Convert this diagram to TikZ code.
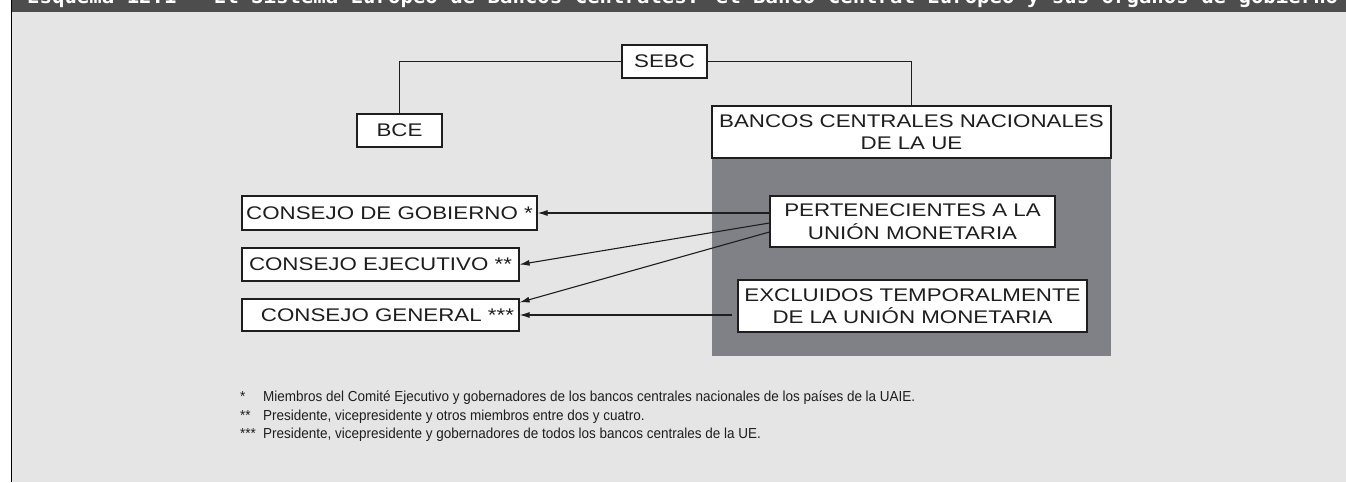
\documentclass[tikz,border=0pt]{standalone}
\usepackage{fontspec}
\setmainfont{Liberation Sans}
\newfontfamily\boxfont[FakeStretch=1.22]{Liberation Sans}
\newfontfamily\notefont[FakeStretch=0.93]{Liberation Sans}
\newfontfamily\titlefont{DejaVu Sans Mono}
\usetikzlibrary{arrows.meta,calc}
\definecolor{bg}{RGB}{229,229,229}
\definecolor{bar}{RGB}{77,77,77}
\definecolor{panel}{RGB}{128,129,134}
\definecolor{ink}{RGB}{30,30,30}
\begin{document}
\begin{tikzpicture}[x=1pt,y=-1pt,
 box/.style={draw=ink,line width=1.2pt,fill=white,inner sep=0pt,align=center,font=\boxfont\fontsize{18.3}{22.5}\selectfont,text=ink},
 link/.style={draw=ink,line width=1.1pt},
 arr/.style={link,-{Latex[length=10pt,width=6pt]}},
 note/.style={anchor=base west,inner sep=0pt,font=\notefont\fontsize{14.5}{17}\selectfont,text=ink}]
\useasboundingbox (0,0) rectangle (1346,482);
\clip (0,0) rectangle (1346,482);
\fill[white] (0,0) rectangle (1346,482);
\fill[bg] (12,0) rectangle (1346,482);
\fill[bar] (12,0) rectangle (1346,12);
\draw[black,line width=1.8pt] (11.5,0) -- (11.5,482);
\node[anchor=base west,inner sep=0pt,text=white,font=\titlefont\bfseries\fontsize{20}{24}\selectfont] (title) at (27,3) {\resizebox{1311pt}{\height}{Esquema 12.1 – El Sistema Europeo de Bancos Centrales: el Banco Central Europeo y sus órganos de gobierno}};
\fill[panel] (712,158) rectangle (1111,356);
\node[box,minimum width=85pt,minimum height=33pt] (sebc) at (664.5,61.5) {SEBC};
\node[box,minimum width=85pt,minimum height=33pt] (bce) at (399.5,130.5) {BCE};
\node[box,minimum width=399pt,minimum height=52pt] (bancos) at (911.5,132) {BANCOS CENTRALES NACIONALES\\DE LA UE};
\node[box,minimum width=285pt,minimum height=51pt] (pert) at (912.5,221.5) {PERTENECIENTES A LA\\UNIÓN MONETARIA};
\node[box,minimum width=349pt,minimum height=52pt] (excl) at (912.5,306) {EXCLUIDOS TEMPORALMENTE\\DE LA UNIÓN MONETARIA};
\node[box,minimum width=295pt,minimum height=34pt] (gob) at (389.5,213) {CONSEJO DE GOBIERNO *};
\node[box,minimum width=277pt,minimum height=33pt] (eje) at (380.5,264.5) {CONSEJO EJECUTIVO **};
\node[box,minimum width=277pt,minimum height=32pt] (gen) at (380.5,315) {\hspace*{14pt}CONSEJO GENERAL ***};
\draw[link] (bce.north) |- (sebc.west);
\draw[link] (sebc.east) -| (bancos.north);
\draw[arr] (pert.west |- gob.east) -- (gob.east);
\draw[arr] ([yshift=-1.5pt]pert.west) -- (eje.east);
\draw[arr] ([yshift=-10.5pt]pert.west) -- ([yshift=-4pt]gen.north east);
\draw[arr] ([xshift=-5pt]excl.west |- gen.east) -- (gen.east);
\node[note] (s1) at (240,401) {*};
\node[note] (t1) at (263,401) {Miembros del Comité Ejecutivo y gobernadores de los bancos centrales nacionales de los países de la UAIE.};
\node[note] (s2) at (240,420) {**};
\node[note] (t2) at (263,420) {Presidente, vicepresidente y otros miembros entre dos y cuatro.};
\node[note] (s3) at (240,438) {***};
\node[note] (t3) at (263,438) {Presidente, vicepresidente y gobernadores de todos los bancos centrales de la UE.};
\end{tikzpicture}
\end{document}
